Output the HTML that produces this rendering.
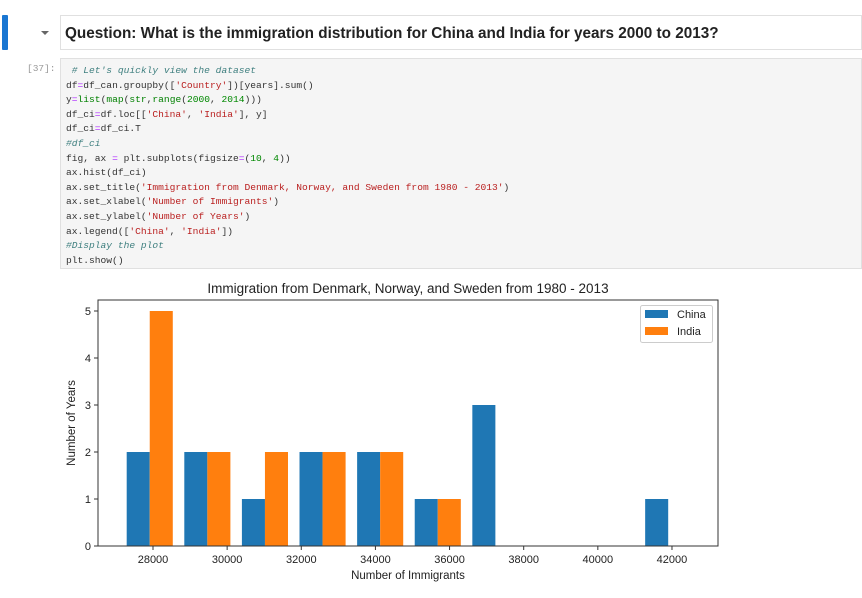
<!DOCTYPE html>
<html><head><meta charset="utf-8"><style>
body{margin:0;width:862px;height:598px;background:#fff;position:relative;overflow:hidden;font-family:"Liberation Sans",sans-serif}
#code{position:absolute;left:60px;top:58px;width:802px;height:211px;background:#f5f5f5;border:1px solid #e0e0e0;box-sizing:border-box}
#code pre{margin:0;padding:5px 0 0 5px;font-family:"Liberation Mono",monospace;font-size:9.6px;line-height:14.6px;color:#333}
.c{color:#408080;font-style:italic}.s{color:#ba2121}.n{color:#080}.k{color:#008000}.o{color:#aa22ff}
</style></head><body>
<div style="position:absolute;left:2px;top:15px;width:6px;height:35px;background:#1976d2;border-radius:1px"></div>
<div style="position:absolute;left:41px;top:31px;width:0;height:0;border-left:4px solid transparent;border-right:4px solid transparent;border-top:4px solid #666"></div>
<div style="position:absolute;left:60px;top:15px;width:802px;height:35px;border:1px solid #e0e0e0;box-sizing:border-box;font-size:15.3px;font-weight:bold;color:#222;line-height:36px;padding-left:4px">Question: What is the immigration distribution for China and India for years 2000 to 2013?</div>
<div style="position:absolute;left:27px;top:63px;font-family:'Liberation Mono',monospace;font-size:9.5px;color:#999">[37]:</div>
<div id="code"><pre><span class="c"> # Let's quickly view the dataset</span>
df<span class="o">=</span>df_can.groupby([<span class="s">'Country'</span>])[years].sum()
y<span class="o">=</span><span class="k">list</span>(<span class="k">map</span>(<span class="k">str</span>,<span class="k">range</span>(<span class="n">2000</span>, <span class="n">2014</span>)))
df_ci<span class="o">=</span>df.loc[[<span class="s">'China'</span>, <span class="s">'India'</span>], y]
df_ci<span class="o">=</span>df_ci.T
<span class="c">#df_ci</span>
fig, ax <span class="o">=</span> plt.subplots(figsize<span class="o">=</span>(<span class="n">10</span>, <span class="n">4</span>))
ax.hist(df_ci)
ax.set_title(<span class="s">'Immigration from Denmark, Norway, and Sweden from 1980 - 2013'</span>)
ax.set_xlabel(<span class="s">'Number of Immigrants'</span>)
ax.set_ylabel(<span class="s">'Number of Years'</span>)
ax.legend([<span class="s">'China'</span>, <span class="s">'India'</span>])
<span class="c">#Display the plot</span>
plt.show()</pre></div>
<svg id="chart" width="862" height="598" style="position:absolute;left:0;top:0" font-family="Liberation Sans, sans-serif"></svg>
<script>
const binStart=27135;
const binWidth=1554;
const chinaCounts=[2,2,1,2,2,1,3,0,0,1];
const indiaCounts=[5,2,2,2,2,1,0,0,0,0];
const xTicks=[28000,30000,32000,34000,36000,38000,40000,42000];
const yTicks=[0,1,2,3,4,5];
const seriesNames=['China','India'];
const colors=['#1f77b4','#ff7f0e'];
const NS='http://www.w3.org/2000/svg';
const svg=document.getElementById('chart');
const L=98,R=718,T=300,B=546;
const xs=v=>153+(v-28000)*0.03707;
const ys=v=>B-v*47;
function mk(tag,attrs,parent){const e=document.createElementNS(NS,tag);for(const k in attrs)e.setAttribute(k,attrs[k]);(parent||svg).appendChild(e);return e;}
[chinaCounts,indiaCounts].forEach((arr,si)=>{
  arr.forEach((c,i)=>{
    if(!c)return;
    const center=binStart+binWidth*(i+0.5);
    const w=binWidth*0.4;
    const x0=center-binWidth*0.4+si*w;
    const r=mk('rect',{x:xs(x0),y:ys(c),width:xs(x0+w)-xs(x0),height:B-ys(c),fill:colors[si]});
    
    
  });
});
const frame=mk('rect',{x:L,y:T,width:R-L,height:B-T,fill:'none',stroke:'#333','stroke-width':1});


xTicks.forEach(v=>{
  const x=xs(v);
  mk('line',{x1:x,x2:x,y1:B,y2:B+4,stroke:'#333'});
  const t=mk('text',{x:x,y:B+17,'font-size':11,'text-anchor':'middle',fill:'#222'});t.textContent=v;
  
  
});
yTicks.forEach(v=>{
  const y=ys(v);
  mk('line',{x1:L-4,x2:L,y1:y,y2:y,stroke:'#333'});
  const t=mk('text',{x:L-7,y:y+4,'font-size':11,'text-anchor':'end',fill:'#222'});t.textContent=v;
  
  
});
const title=mk('text',{x:408,y:293,'font-size':13.5,'text-anchor':'middle',fill:'#222'});title.textContent='Immigration from Denmark, Norway, and Sweden from 1980 - 2013';


const xl=mk('text',{x:408,y:579,'font-size':11.5,'text-anchor':'middle',fill:'#222'});xl.textContent='Number of Immigrants';


const yl=mk('text',{x:0,y:0,'font-size':11.5,'text-anchor':'middle',fill:'#222',transform:'translate(75,423) rotate(-90)'});yl.textContent='Number of Years';


const lg=mk('g',{});


mk('rect',{x:640.5,y:305.5,width:72,height:37,fill:'#fff',stroke:'#ccc',rx:2},lg);
seriesNames.forEach((n,i)=>{
  const y=310+i*17;
  mk('rect',{x:645,y:y,width:23,height:8,fill:colors[i]},lg);
  const t=mk('text',{x:677,y:y+8,'font-size':11,fill:'#222'},lg);t.textContent=n;
  
  
});
</script>
</body></html>
